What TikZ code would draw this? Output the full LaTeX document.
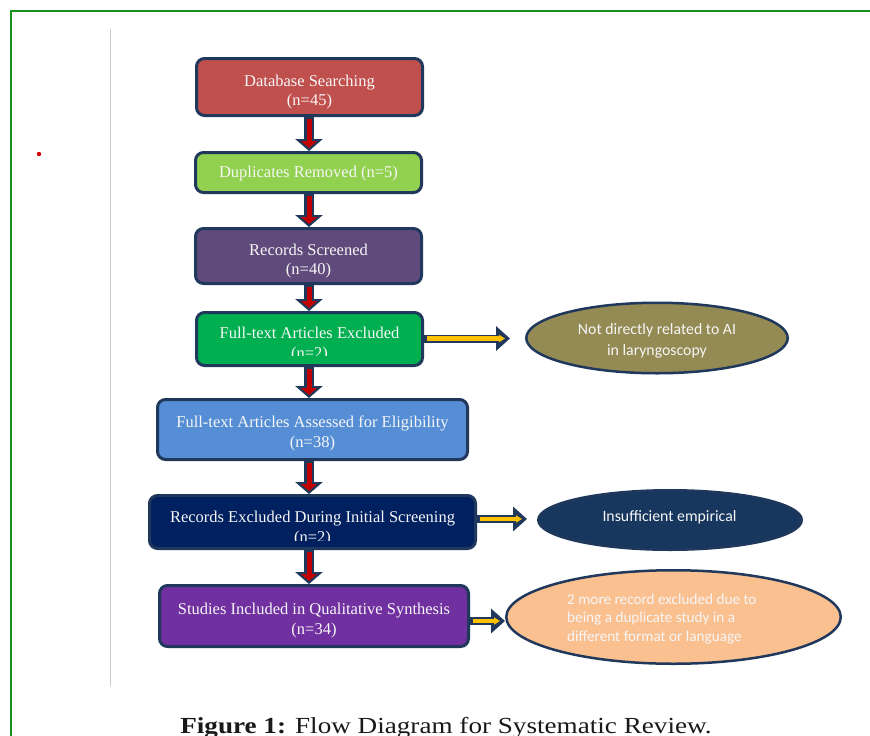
\documentclass[tikz,border=0pt]{standalone}
\usepackage{fontspec}
\setmainfont{Liberation Serif}
\newfontfamily\calfont{Carlito}
\newfontfamily\capfont[FakeStretch=1.18]{Liberation Serif}
\usetikzlibrary{arrows.meta,shapes.geometric,calc}
\definecolor{bordnavy}{RGB}{31,56,92}
\definecolor{c1}{RGB}{192,80,77}
\definecolor{c2}{RGB}{146,208,80}
\definecolor{c3}{RGB}{96,74,123}
\definecolor{c4}{RGB}{0,176,80}
\definecolor{c5}{RGB}{85,142,213}
\definecolor{c6}{RGB}{0,32,96}
\definecolor{c7}{RGB}{112,48,160}
\definecolor{ce1}{RGB}{148,138,84}
\definecolor{ce2}{RGB}{23,55,94}
\definecolor{ce3}{RGB}{250,192,144}
\definecolor{arrred}{RGB}{192,0,0}
\definecolor{arryel}{RGB}{255,192,0}
\definecolor{frame}{RGB}{26,140,26}
\definecolor{txtw}{RGB}{246,246,246}
\begin{document}
\begin{tikzpicture}[x=1pt,y=-1pt,
  box/.style={draw=bordnavy, line width=3pt, rounded corners=8pt, inner sep=0pt},
  boxtext/.style={text=txtw, font=\fontsize{16.5}{19.5}\selectfont, align=center, inner sep=0pt},
  ell/.style={ellipse, draw=bordnavy, line width=2.5pt, inner sep=0pt},
  elltext/.style={text=txtw, inner sep=0pt},
  vout/.style={draw=bordnavy, line width=10pt, -{Triangle[width=27pt,length=12pt]}},
  vin/.style={draw=arrred, line width=5pt, -{Triangle[width=16pt,length=7pt]}, shorten >=3pt, shorten <=1.5pt},
  hout/.style={draw=bordnavy, line width=8pt, -{Triangle[width=24pt,length=14pt]}},
  hin/.style={draw=arryel, line width=4.5pt, -{Triangle[width=7pt,length=6pt]}, shorten >=5pt, shorten <=3pt}
]
\clip (0,0) rectangle (870,736);
\fill[white] (0,0) rectangle (870,736);
\draw[frame, line width=2.5pt] (11,745) -- (11,11) -- (880,11);
\draw[black!20, line width=0.8pt] (110,29) -- (110,686);
\fill[red!85!black] (39,154) circle (2.2);

% boxes
\node[box, fill=c1, minimum width=226pt, minimum height=57pt] (b1) at (309.5,87) {};
\node[box, fill=c2, minimum width=226pt, minimum height=40pt] (b2) at (308.5,172.5) {};
\node[box, fill=c3, minimum width=226pt, minimum height=55pt] (b3) at (308.5,256) {};
\node[box, fill=c4, minimum width=226pt, minimum height=53pt] (b4) at (309.5,339) {};
\node[box, fill=c5, minimum width=310pt, minimum height=60pt] (b5) at (312.5,429.5) {};
\node[box, fill=c6, minimum width=326pt, minimum height=53pt] (b6) at (312.5,522) {};
\node[box, fill=c7, minimum width=309pt, minimum height=61pt] (b7) at (314,616) {};

\node[boxtext] (t1) at (309.5,92) {Database Searching\\(n=45)};
\node[boxtext] (t2) at (308.5,173.5) {Duplicates Removed (n=5)};
\node[boxtext] (t3) at (308.5,261) {Records Screened\\(n=40)};
\node[boxtext] (t5) at (312.5,433.5) {Full-text Articles Assessed for Eligibility\\(n=38)};
\node[boxtext] (t7) at (314,620.5) {Studies Included in Qualitative Synthesis\\(n=34)};
\begin{scope}
\clip (b4.north west) rectangle ($(b4.east)+(0,16)$);
\node[boxtext] (t4) at (309.5,344.5) {Full-text Articles Excluded\\(n=2)};
\end{scope}
\begin{scope}
\clip (b6.north west) rectangle ($(b6.east)+(0,18)$);
\node[boxtext] (t6) at (312.5,528.5) {Records Excluded During Initial Screening\\(n=2)};
\end{scope}

% ellipses
\node[ell, fill=ce1, minimum width=261.5pt, minimum height=70.5pt] (e1) at (657,338) {};
\node[elltext, align=center, font=\calfont\fontsize{15.8}{21}\selectfont] (t8) at (657,341) {Not directly related to AI\\in laryngoscopy};
\node[ell, fill=ce2, minimum width=263.5pt, minimum height=59.5pt] (e2) at (670,520) {};
\node[elltext, font=\calfont\fontsize{15.8}{18}\selectfont] (t9) at (669.5,517) {Insufficient empirical};
\node[ell, fill=ce3, minimum width=334.5pt, minimum height=93.5pt] (e3) at (673.5,617) {};
\node[elltext, align=left, anchor=west, font=\calfont\fontsize{15.2}{18.5}\selectfont] (t10) at (567,619) {2 more record excluded due to\\being a duplicate study in a\\different format or language};

% vertical arrows
\coordinate (ax) at (309,0);
\foreach \a/\b in {b1/b2,b2/b3,b3/b4,b4/b5,b5/b6,b6/b7}{
  \draw[vout] (\a.south -| ax) -- (\b.north -| ax);
  \draw[vin] (\a.south -| ax) -- (\b.north -| ax);
}

% horizontal arrows
\coordinate (a1e) at (510,338.5);
\coordinate (a2e) at (527,519);
\coordinate (a3e) at (505,621);
\draw[hout] (b4.east |- a1e) -- (a1e);
\draw[hin] (b4.east |- a1e) -- (a1e);
\draw[hout] (b6.east |- a2e) -- (a2e);
\draw[hin] (b6.east |- a2e) -- (a2e);
\draw[hout] (b7.east |- a3e) -- (a3e);
\draw[hin] (b7.east |- a3e) -- (a3e);

% caption
\node[anchor=base, inner sep=0pt, text=black!90, font=\capfont\fontsize{23}{23}\selectfont] (cap) at (446,733) {\textbf{Figure 1:} Flow Diagram for Systematic Review.};
\end{tikzpicture}
\end{document}
